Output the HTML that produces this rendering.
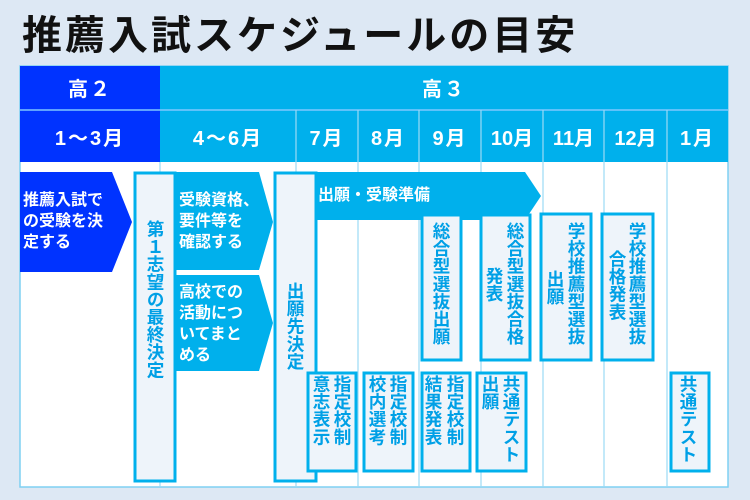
<!DOCTYPE html><html><head><meta charset="utf-8"><style>
body{margin:0;width:750px;height:500px;background:#dde8f4;position:relative;overflow:hidden;font-family:"Liberation Sans","Noto Sans CJK JP",sans-serif;font-weight:bold}
.a{position:absolute}
.h{color:#fff;font-size:20px;text-align:center;letter-spacing:2px}
.v{position:absolute;writing-mode:vertical-rl;color:#00a0e6;font-size:17.6px;line-height:20px;width:20px;text-align:center}
.w{position:absolute;color:#fff;font-size:16px;line-height:21px}
</style></head><body>
<div class="a" style="left:22px;top:3px;font-size:40px;color:#111;letter-spacing:3px">推薦入試スケジュールの目安</div>
<svg class="a" style="left:0;top:0" width="750" height="500">
<rect x="20" y="66" width="708" height="421" fill="#fff" stroke="#7fd0f2" stroke-width="1.5"/>
<rect x="20" y="66" width="140" height="96" fill="#0033ff"/>
<rect x="160" y="66" width="568" height="96" fill="#00b0ec"/>
<line x1="20" y1="110" x2="728" y2="110" stroke="#7fc8ff" stroke-width="1.5"/>
<g stroke="#9bdaf5" stroke-width="1.2">
<line x1="160" y1="162" x2="160" y2="487"/>
<line x1="296" y1="110" x2="296" y2="487"/><line x1="358" y1="110" x2="358" y2="487"/>
<line x1="419" y1="110" x2="419" y2="487"/><line x1="481" y1="110" x2="481" y2="487"/>
<line x1="543" y1="110" x2="543" y2="487"/><line x1="604" y1="110" x2="604" y2="487"/>
<line x1="667" y1="110" x2="667" y2="487"/></g>
<polygon points="20,172 112,172 132,222 112,272 20,272" fill="#0033ff"/>
<polygon points="176,172 259,172 273,222 259,270 176,270" fill="#00b0ec"/>
<polygon points="176,275 259,275 273,323 259,371 176,371" fill="#00b0ec"/>
<polygon points="316,172 525,172 541,196 525,220 316,220" fill="#00b0ec"/>
<g fill="#eef4fa" stroke="#00b0ec" stroke-width="3">
<rect x="135" y="173" width="40" height="308"/>
<rect x="275" y="173" width="41" height="308"/>
<rect x="422" y="215" width="39" height="145"/>
<rect x="481" y="215" width="49" height="145"/>
<rect x="541" y="214" width="50" height="146"/>
<rect x="602" y="214" width="51" height="146"/>
<rect x="308" y="373" width="48" height="98"/>
<rect x="364" y="373" width="49" height="98"/>
<rect x="422" y="373" width="48" height="98"/>
<rect x="477" y="373" width="49" height="98"/>
<rect x="671" y="373" width="38" height="98"/>
</g></svg>
<div class="a h" style="left:20px;top:73px;width:140px">高２</div>
<div class="a h" style="left:160px;top:73px;width:568px">高３</div>
<div class="a h" style="left:20px;top:122px;width:140px">1～3月</div>
<div class="a h" style="left:160px;top:122px;width:136px">4～6月</div>
<div class="a h" style="left:296px;top:122px;width:62px">7月</div>
<div class="a h" style="left:358px;top:122px;width:61px">8月</div>
<div class="a h" style="left:419px;top:122px;width:62px">9月</div>
<div class="a h" style="left:481px;top:122px;width:62px;letter-spacing:0">10月</div>
<div class="a h" style="left:543px;top:122px;width:61px;letter-spacing:0">11月</div>
<div class="a h" style="left:604px;top:122px;width:63px;letter-spacing:0">12月</div>
<div class="a h" style="left:667px;top:122px;width:61px">1月</div>
<div class="w" style="left:23px;top:190px">推薦入試で<br>の受験を決<br>定する</div>
<div class="w" style="left:179px;top:190px">受験資格、<br>要件等を<br>確認する</div>
<div class="w" style="left:179px;top:282px">高校での<br>活動につ<br>いてまと<br>める</div>
<div class="w" style="left:318px;top:185px">出願・受験準備</div>
<div class="v" style="left:145px;top:220px">第１志望の最終決定</div>
<div class="v" style="left:285px;top:282px">出願先決定</div>
<div class="v" style="left:431px;top:222px">総合型選抜出願</div>
<div class="v" style="left:505px;top:222px">総合型選抜合格</div>
<div class="v" style="left:484px;top:267px">発表</div>
<div class="v" style="left:566px;top:222px">学校推薦型選抜</div>
<div class="v" style="left:545px;top:270px">出願</div>
<div class="v" style="left:627px;top:222px">学校推薦型選抜</div>
<div class="v" style="left:607px;top:250px">合格発表</div>
<div class="v" style="left:332px;top:375px">指定校制</div>
<div class="v" style="left:311px;top:375px">意志表示</div>
<div class="v" style="left:388px;top:375px">指定校制</div>
<div class="v" style="left:367px;top:375px">校内選考</div>
<div class="v" style="left:445px;top:375px">指定校制</div>
<div class="v" style="left:423px;top:375px">結果発表</div>
<div class="v" style="left:501px;top:375px">共通テスト</div>
<div class="v" style="left:480px;top:375px">出願</div>
<div class="v" style="left:678px;top:375px">共通テスト</div>
</body></html>
